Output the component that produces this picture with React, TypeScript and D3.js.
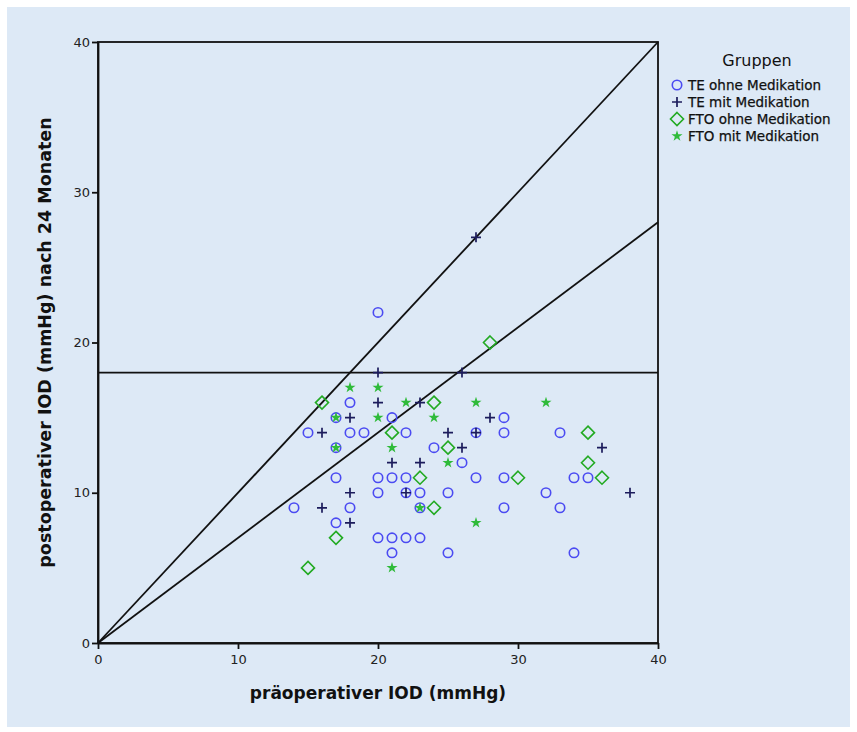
import { useEffect, useRef } from "react";
import * as d3 from "d3";

// [pre-op IOD, post-op IOD after 24 months]
const teOhne: [number, number][] = [
  [20, 22], [18, 16], [17, 15], [21, 15], [29, 15],
  [15, 14], [18, 14], [19, 14], [22, 14], [27, 14], [29, 14], [33, 14],
  [17, 13], [24, 13], [26, 12],
  [17, 11], [20, 11], [21, 11], [22, 11], [27, 11], [29, 11], [34, 11], [35, 11],
  [20, 10], [22, 10], [23, 10], [25, 10], [32, 10],
  [14, 9], [18, 9], [23, 9], [29, 9], [33, 9],
  [17, 8], [20, 7], [21, 7], [22, 7], [23, 7],
  [21, 6], [25, 6], [34, 6],
];
const teMit: [number, number][] = [
  [27, 27], [20, 18], [26, 18], [20, 16], [23, 16], [18, 15], [28, 15],
  [16, 14], [25, 14], [27, 14], [26, 13], [36, 13], [21, 12], [23, 12],
  [18, 10], [22, 10], [38, 10], [16, 9], [18, 8],
];
const ftoOhne: [number, number][] = [
  [28, 20], [16, 16], [24, 16], [21, 14], [35, 14], [25, 13], [35, 12],
  [23, 11], [30, 11], [36, 11], [24, 9], [17, 7], [15, 5],
];
const ftoMit: [number, number][] = [
  [18, 17], [20, 17], [22, 16], [27, 16], [32, 16], [17, 15], [20, 15], [24, 15],
  [17, 13], [21, 13], [25, 12], [23, 9], [27, 8], [21, 5],
];
const legendLabels = ["TE ohne Medikation", "TE mit Medikation", "FTO ohne Medikation", "FTO mit Medikation"];
const xTicks = [0, 10, 20, 30, 40];
const yTicks = [0, 10, 20, 30, 40];
// reference lines: y = slope * x, and horizontal at 18
const slopes = [1, 0.7];
const hLine = 18;

const BG = "#dde9f6";
const BLUE = "#4b4bf2";
const NAVY = "#1c1c5c";
const GREEN = "#22aa22";
const STAR_GREEN = "#2fbb3a";
const FONT = "'DejaVu Sans', sans-serif";

const circlePath = d3.symbol(d3.symbolCircle, 70)();
const crossPath = "M-5,0H5M0,-5V5";
const diamondPath = "M0,-6.5L6.5,0L0,6.5L-6.5,0Z";
const starPath = d3.symbol(d3.symbolStar, 38)();

const styles = [
  { data: teOhne, d: circlePath, fill: "none", stroke: BLUE, sw: 1.6 },
  { data: teMit, d: crossPath, fill: "none", stroke: NAVY, sw: 1.7 },
  { data: ftoOhne, d: diamondPath, fill: "none", stroke: GREEN, sw: 1.6 },
  { data: ftoMit, d: starPath, fill: STAR_GREEN, stroke: "none", sw: 0 },
];

export default function App() {
  const ref = useRef<SVGSVGElement>(null);

  useEffect(() => {
    const svg = d3.select(ref.current);
    svg.selectAll("*").remove();

    const x = d3.scaleLinear().domain([0, 40]).range([98, 658]);
    const y = d3.scaleLinear().domain([0, 40]).range([643, 42]);

    svg.append("rect").attr("x", 7).attr("y", 7).attr("width", 843).attr("height", 720).attr("fill", BG);

    // frame
    svg.append("rect")
      .attr("x", x(0)).attr("y", y(40))
      .attr("width", x(40) - x(0)).attr("height", y(0) - y(40))
      .attr("fill", "none").attr("stroke", "#111").attr("stroke-width", 1.8);

    // reference lines
    slopes.forEach((s) => {
      svg.append("line")
        .attr("x1", x(0)).attr("y1", y(0))
        .attr("x2", x(40)).attr("y2", y(40 * s))
        .attr("stroke", "#111").attr("stroke-width", 1.8);
    });
    svg.append("line")
      .attr("x1", x(0)).attr("x2", x(40))
      .attr("y1", y(hLine)).attr("y2", y(hLine))
      .attr("stroke", "#111").attr("stroke-width", 1.8);

    // axes
    const xAxis = svg.append("g").attr("transform", `translate(0,${y(0)})`)
      .call(d3.axisBottom(x).tickValues(xTicks).tickSize(6).tickSizeOuter(0));
    const yAxis = svg.append("g").attr("transform", `translate(${x(0)},0)`)
      .call(d3.axisLeft(y).tickValues(yTicks).tickSize(6).tickSizeOuter(0));
    [xAxis, yAxis].forEach((a) => {
      a.select(".domain").attr("stroke", "#111").attr("stroke-width", 1.8);
      a.selectAll(".tick line").attr("stroke", "#111").attr("stroke-width", 1.8);
      a.selectAll(".tick text").attr("fill", "#222").style("font-family", FONT).style("font-size", "13px");
    });
    xAxis.selectAll(".tick text").attr("dy", "0.9em");
    yAxis.selectAll(".tick text").attr("x", -8);

    // points
    styles.forEach((st) => {
      svg.append("g").selectAll("path")
        .data(st.data)
        .join("path")
        .attr("transform", (p) => `translate(${x(p[0])},${y(p[1])})`)
        .attr("d", st.d)
        .attr("fill", st.fill)
        .attr("stroke", st.stroke)
        .attr("stroke-width", st.sw);
    });

    // axis titles
    svg.append("text")
      .attr("x", (x(0) + x(40)) / 2).attr("y", 699)
      .attr("text-anchor", "middle")
      .style("font-family", FONT).style("font-size", "17px").style("font-weight", "700")
      .attr("fill", "#111")
      .text("präoperativer IOD (mmHg)");
    svg.append("text")
      .attr("transform", `translate(51,${(y(0) + y(40)) / 2}) rotate(-90)`)
      .attr("text-anchor", "middle")
      .style("font-family", FONT).style("font-size", "17.5px").style("font-weight", "700")
      .attr("fill", "#111")
      .text("postoperativer IOD (mmHg) nach 24 Monaten");

    // legend
    const lg = svg.append("g");
    lg.append("text")
      .attr("x", 757).attr("y", 66)
      .attr("text-anchor", "middle")
      .style("font-family", FONT).style("font-size", "16px")
      .attr("fill", "#111")
      .text("Gruppen");
    legendLabels.forEach((lab, i) => {
      const st = styles[i];
      const cy = 85 + i * 17;
      lg.append("path")
        .attr("transform", `translate(677,${cy})`)
        .attr("d", st.d)
        .attr("fill", st.fill)
        .attr("stroke", st.stroke)
        .attr("stroke-width", st.sw);
      lg.append("text")
        .attr("x", 688).attr("y", cy + 5)
        .style("font-family", FONT).style("font-size", "13.5px")
        .attr("fill", "#111")
        .attr("stroke", "#111").attr("stroke-width", 0.25)
        .text(lab);
    });
  }, []);

  return (
    <svg
      ref={ref}
      width={857}
      height={732}
      style={{ position: "absolute", left: 0, top: 0, background: "white" }}
    />
  );
}
